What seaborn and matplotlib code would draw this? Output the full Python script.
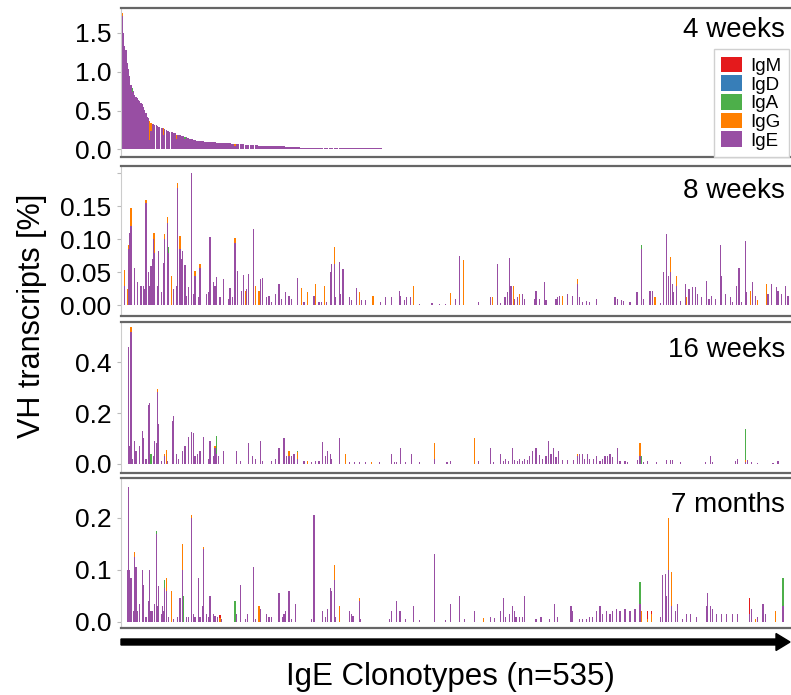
import numpy as np
import pandas as pd
import seaborn as sns
import matplotlib.pyplot as plt
from matplotlib.patches import FancyArrow

n_clones = 535
isotypes = ['IgM', 'IgD', 'IgA', 'IgG', 'IgE']   # top of stack -> bottom
iso_colors = ['#e41a1c', '#377eb8', '#4daf4a', '#ff7f00', '#984ea3']
panel_names = ['4 weeks', '8 weeks', '16 weeks', '7 months']

# 4 weeks: clonotypes are ranked by abundance at this time point (IgE part)
wk4_ige = [
    1.72, 1.50, 1.33, 1.28, 1.11, 1.03, 0.94, 0.83, 0.74, 0.75, 0.70, 0.68,
    0.66, 0.64, 0.62, 0.60, 0.59, 0.55, 0.51, 0.47, 0.42, 0.40, 0.12,
    0.24, 0.33, 0.33, 0.32, 0.31,
    0.30, 0.29, 0.29, 0.28,
    0.27, 0.19, 0.26, 0.25,
    0.24, 0.24, 0.23, 0.22, 0.22, 0.21, 0.21,
    0.14, 0.185, 0.18, 0.18, 0.175, 0.17, 0.17, 0.135,
    0.155, 0.15, 0.145, 0.14, 0.135, 0.13, 0.125, 0.12,
    0.115, 0.11, 0.11, 0.11, 0.105, 0.105, 0.105, 0.10, 0.10, 0.10, 0.10, 0.095, 0.095,
    0.09, 0.09, 0.09, 0.088, 0.088, 0.085, 0.085, 0.085, 0.082, 0.082, 0.08, 0.08,
    0.08, 0.078, 0.078, 0.075,
    0.072, 0.072, 0.05, 0.07, 0.07, 0.068, 0.068, 0.066, 0.066, 0.065, 0.062,
    0.058, 0.057, 0.056, 0.055, 0.055, 0.054, 0.053, 0.052, 0.052, 0.051, 0.05,
    0.05, 0.049, 0.049, 0.048, 0.048, 0.047, 0.046,
    0.044, 0.044, 0.043, 0.043, 0.042, 0.042, 0.041, 0.041, 0.04, 0.04, 0.04,
    0.039, 0.039, 0.038, 0.038, 0.038, 0.037, 0.037, 0.036, 0.036, 0.036, 0.035,
    0.035, 0.034, 0.034,
    0.024, 0.024, 0.023, 0.023, 0.023, 0.022, 0.022, 0.022, 0.022, 0.021, 0.021,
    0.021, 0.021, 0.021, 0.021, 0.020, 0.020, 0.020, 0.020, 0.020, 0.020, 0.020,
    0.020, 0.020, 0.020, 0.019, 0.019, 0.019, 0.019, 0.019, 0.019, 0.019, 0.019,
    0.019, 0.019, 0.019, 0.018, 0.018, 0.018, 0.018, 0.018, 0.018, 0.018, 0.018,
    0.018, 0.018, 0.018, 0.018, 0.018, 0.017, 0.017, 0.017, 0.017, 0.017, 0.017,
    0.017, 0.017, 0.017, 0.017, 0.017, 0.017, 0.017, 0.017, 0.017, 0.017, 0.017,
]
wk4_igg = {0: 0.04, 22: 0.25, 23: 0.10, 33: 0.08, 43: 0.05, 90: 0.02}
wk4_iga = {8: 0.05, 50: 0.03}

# 8 weeks  (rank -> % of VH transcripts)
wk8_ige = {
    2: 0.03, 5: 0.085, 6: 0.11, 7: 0.12, 10: 0.057, 12: 0.035, 15: 0.03, 17: 0.03,
    18: 0.025, 19: 0.155, 21: 0.05, 22: 0.03, 23: 0.06, 24: 0.07, 25: 0.10, 26: 0.08,
    28: 0.03, 29: 0.083, 31: 0.02, 33: 0.064, 34: 0.10, 36: 0.125, 37: 0.08, 41: 0.025,
    43: 0.03, 44: 0.178, 46: 0.085, 47: 0.07, 48: 0.083, 50: 0.061, 51: 0.015, 53: 0.028,
    55: 0.20, 57: 0.018, 58: 0.045, 61: 0.012, 62: 0.056, 67: 0.018, 69: 0.02, 70: 0.104,
    73: 0.035, 74: 0.03, 75: 0.043, 78: 0.012, 81: 0.04, 85: 0.01, 86: 0.027, 88: 0.013,
    90: 0.095, 92: 0.052, 95: 0.022, 97: 0.046, 99: 0.025, 101: 0.048, 105: 0.115,
    110: 0.04, 112: 0.042, 115: 0.012, 117: 0.014, 119: 0.005, 122: 0.018, 125: 0.033,
    127: 0.01, 130: 0.021, 133: 0.015, 135: 0.01, 140: 0.042, 145: 0.005, 153: 0.015,
    157: 0.005, 159: 0.005, 163: 0.005, 166: 0.05, 167: 0.062, 169: 0.062, 170: 0.012,
    173: 0.066, 174: 0.018, 176: 0.055, 181: 0.012, 183: 0.008, 187: 0.026, 191: 0.008,
    194: 0.008, 206: 0.005, 210: 0.012, 215: 0.012, 221: 0.022, 222: 0.015, 225: 0.008,
    227: 0.013, 230: 0.013, 237: 0.002, 247: 0.003, 253: 0.002, 258: 0.002,
    266: 0.01, 269: 0.075, 284: 0.005, 294: 0.013, 299: 0.062, 302: 0.003, 305: 0.012,
    306: 0.012, 307: 0.02, 309: 0.072, 310: 0.03, 313: 0.01, 315: 0.012, 319: 0.018,
    321: 0.01, 329: 0.01, 330: 0.022, 333: 0.01, 337: 0.035, 338: 0.008, 346: 0.01,
    347: 0.012, 349: 0.014, 355: 0.018, 359: 0.015, 363: 0.033, 365: 0.012, 367: 0.005,
    370: 0.007, 373: 0.005, 378: 0.01, 393: 0.012, 395: 0.01, 398: 0.008, 400: 0.006,
    405: 0.005, 410: 0.02, 411: 0.02, 414: 0.086, 416: 0.01, 421: 0.022, 423: 0.022,
    429: 0.004, 432: 0.05, 434: 0.108, 436: 0.045, 437: 0.05, 439: 0.033, 440: 0.02,
    442: 0.03, 445: 0.006, 449: 0.033, 452: 0.025, 455: 0.028, 457: 0.028, 459: 0.018,
    462: 0.012, 466: 0.037, 468: 0.01, 470: 0.015, 473: 0.01, 477: 0.092, 478: 0.045,
    481: 0.017, 485: 0.012, 487: 0.005, 490: 0.03, 492: 0.057, 494: 0.005, 497: 0.097,
    498: 0.02, 503: 0.035, 505: 0.015, 515: 0.017, 518: 0.033, 522: 0.028, 523: 0.022,
    526: 0.018, 529: 0.03, 531: 0.015, 534: 0.025,
}
wk8_igg = {
    2: 0.023, 4: 0.025, 5: 0.006, 7: 0.028, 19: 0.005, 25: 0.01, 26: 0.03, 34: 0.008,
    36: 0.009, 39: 0.045, 44: 0.008, 46: 0.02, 58: 0.007, 62: 0.007, 90: 0.007,
    98: 0.022, 106: 0.03, 109: 0.022, 143: 0.026, 148: 0.02, 154: 0.032, 161: 0.03,
    169: 0.026, 189: 0.021, 200: 0.015, 232: 0.03, 262: 0.019, 272: 0.068, 295: 0.012,
    312: 0.03, 317: 0.018, 351: 0.015, 363: 0.007, 425: 0.012, 437: 0.023, 442: 0.014,
    450: 0.012, 501: 0.022, 507: 0.008, 514: 0.033,
}
wk8_iga = {37: 0.008, 414: 0.006}

# 16 weeks
wk16_ige = {
    5: 0.46, 6: 0.07, 7: 0.52, 8: 0.02, 10: 0.09, 11: 0.05, 14: 0.07, 16: 0.13, 17: 0.10,
    19: 0.02, 21: 0.23, 22: 0.24, 25: 0.03, 26: 0.09, 27: 0.08, 28: 0.285, 29: 0.155,
    31: 0.01, 34: 0.03, 36: 0.01, 40: 0.17, 41: 0.19, 43: 0.04, 45: 0.02, 48: 0.05,
    50: 0.07, 53: 0.105, 55: 0.125, 57: 0.12, 58: 0.03, 60: 0.04, 62: 0.05, 65: 0.105,
    69: 0.02, 70: 0.09, 73: 0.03, 74: 0.06, 75: 0.04, 77: 0.03, 81: 0.05, 91: 0.05,
    94: 0.01, 101: 0.08, 104: 0.03, 106: 0.02, 110: 0.09, 112: 0.01, 119: 0.01,
    122: 0.02, 125: 0.06, 129: 0.10, 131: 0.03, 133: 0.03, 135: 0.03, 137: 0.04,
    140: 0.02, 145: 0.01, 151: 0.008, 154: 0.01, 157: 0.01, 160: 0.085, 162: 0.03,
    164: 0.05, 166: 0.04, 167: 0.02, 173: 0.10, 181: 0.005, 185: 0.005, 189: 0.006,
    194: 0.006, 205: 0.005, 215: 0.04, 217: 0.008, 219: 0.008, 222: 0.06, 226: 0.005,
    231: 0.04, 237: 0.005, 249: 0.02, 259: 0.005, 262: 0.01,
    284: 0.01, 294: 0.06, 296: 0.005, 302: 0.04, 304: 0.01, 306: 0.02, 308: 0.01,
    311: 0.06, 313: 0.015, 315: 0.01, 317: 0.02, 319: 0.012, 321: 0.02, 323: 0.015,
    325: 0.03, 327: 0.05, 330: 0.06, 333: 0.035, 335: 0.02, 338: 0.03, 340: 0.09,
    342: 0.04, 344: 0.06, 346: 0.025, 348: 0.05, 351: 0.015, 355: 0.015, 360: 0.015,
    363: 0.03, 365: 0.04, 367: 0.04, 369: 0.02, 371: 0.04, 373: 0.02, 376: 0.02,
    378: 0.03, 381: 0.01, 383: 0.02, 385: 0.03, 387: 0.03, 389: 0.04, 391: 0.025,
    395: 0.06, 397: 0.01, 401: 0.01, 403: 0.005, 411: 0.015, 413: 0.03, 416: 0.005,
    419: 0.01, 426: 0.005, 434: 0.015, 437: 0.015, 439: 0.015, 445: 0.005, 465: 0.005,
    469: 0.03, 471: 0.005, 489: 0.01, 491: 0.02, 497: 0.005, 499: 0.015, 502: 0.005,
    507: 0.004, 519: 0.004, 523: 0.01,
}
wk16_igg = {
    7: 0.02, 28: 0.01, 34: 0.01, 35: 0.055, 74: 0.01, 133: 0.02, 140: 0.025, 148: 0.01,
    178: 0.04, 199: 0.005, 249: 0.06, 281: 0.10, 363: 0.01, 413: 0.05, 497: 0.01,
}
wk16_iga = {23: 0.04, 75: 0.07, 140: 0.005, 414: 0.03, 497: 0.12}

# 7 months
mo7_ige = {
    4: 0.10, 5: 0.26, 6: 0.10, 7: 0.085, 9: 0.02, 10: 0.125, 11: 0.105, 12: 0.02,
    14: 0.035, 16: 0.10, 17: 0.07, 19: 0.01, 21: 0.04, 22: 0.10, 23: 0.02, 24: 0.02,
    26: 0.035, 27: 0.17, 28: 0.03, 29: 0.068, 31: 0.015, 32: 0.03, 33: 0.02, 34: 0.065,
    35: 0.06, 37: 0.01, 41: 0.005, 44: 0.01, 46: 0.045, 48: 0.10, 51: 0.01, 53: 0.01,
    55: 0.20, 57: 0.015, 58: 0.01, 61: 0.084, 62: 0.01, 64: 0.03, 65: 0.14, 67: 0.015,
    69: 0.01, 70: 0.05, 73: 0.015, 74: 0.012, 76: 0.01, 79: 0.005, 91: 0.015, 94: 0.07,
    98: 0.005, 100: 0.015, 105: 0.105, 106: 0.005, 110: 0.025, 115: 0.015, 117: 0.01,
    119: 0.01, 125: 0.055, 128: 0.01, 129: 0.015, 130: 0.02, 133: 0.06, 135: 0.005,
    138: 0.035, 151: 0.005, 153: 0.205, 160: 0.02, 162: 0.01, 164: 0.025, 166: 0.065,
    167: 0.06, 169: 0.08, 170: 0.01, 181: 0.02, 183: 0.015, 184: 0.012, 189: 0.04,
    190: 0.005, 213: 0.005, 215: 0.02, 219: 0.04, 221: 0.02, 222: 0.02, 226: 0.005,
    232: 0.03, 237: 0.003, 249: 0.13, 258: 0.003, 262: 0.035,
    269: 0.05, 273: 0.005, 281: 0.02, 294: 0.01, 297: 0.008, 302: 0.02, 304: 0.045,
    306: 0.01, 309: 0.015, 311: 0.03, 313: 0.02, 314: 0.01, 317: 0.01, 319: 0.01,
    321: 0.05, 330: 0.005, 334: 0.01, 341: 0.005, 345: 0.035, 347: 0.01, 358: 0.03,
    359: 0.02, 365: 0.005, 367: 0.005, 370: 0.005, 373: 0.01, 375: 0.01, 378: 0.02,
    381: 0.03, 383: 0.015, 386: 0.02, 389: 0.015, 391: 0.02, 394: 0.025, 397: 0.02,
    401: 0.025, 405: 0.02, 409: 0.025, 413: 0.035, 429: 0.01, 431: 0.09, 433: 0.092,
    434: 0.05, 436: 0.10, 438: 0.03, 441: 0.02, 443: 0.035, 447: 0.005, 450: 0.015,
    453: 0.015, 458: 0.01, 466: 0.03, 467: 0.055, 469: 0.03, 471: 0.025, 474: 0.015,
    478: 0.015, 482: 0.015, 487: 0.015, 491: 0.015, 500: 0.015, 502: 0.025, 507: 0.01,
    511: 0.035, 513: 0.015, 527: 0.03, 534: 0.02,
}
mo7_igg = {
    10: 0.009, 35: 0.025, 39: 0.06, 48: 0.05, 55: 0.006, 65: 0.005, 78: 0.008,
    109: 0.03, 169: 0.03, 173: 0.03, 189: 0.005, 288: 0.008, 414: 0.02, 419: 0.005,
    422: 0.015, 436: 0.10, 438: 0.065, 505: 0.005, 521: 0.02,
}
mo7_iga = {27: 0.005, 34: 0.015, 49: 0.05, 90: 0.04, 413: 0.042, 527: 0.055}
mo7_igm = {78: 0.005, 419: 0.015, 422: 0.005, 500: 0.03}


def to_array(values):
    arr = np.zeros(n_clones)
    if isinstance(values, dict):
        for i, v in values.items():
            arr[i] = v
    else:
        arr[:len(values)] = values
    return arr


def long_table(ige, igg, iga, igm=None):
    parts = {'IgE': ige, 'IgG': igg, 'IgA': iga, 'IgM': igm or {}, 'IgD': {}}
    frames = []
    for iso, vals in parts.items():
        frames.append(pd.DataFrame({'clonotype': np.arange(n_clones),
                                    'isotype': iso,
                                    'pct': to_array(vals)}))
    return pd.concat(frames, ignore_index=True)


tables = [
    long_table(wk4_ige, wk4_igg, wk4_iga),
    long_table(wk8_ige, wk8_igg, wk8_iga),
    long_table(wk16_ige, wk16_igg, wk16_iga),
    long_table(mo7_ige, mo7_igg, mo7_iga, mo7_igm),
]

sns.set_style('ticks')
plt.rcParams['font.family'] = ['Liberation Sans', 'DejaVu Sans']
plt.rcParams['text.color'] = 'black'

W, H = 791, 695
fig = plt.figure(figsize=(W / 100, H / 100), dpi=100)

# pixel top/bottom of each panel
boxes = [(8, 157), (166, 316), (322, 473), (478, 628)]
ylims = [(-0.097, 1.82), (-0.016, 0.211), (-0.037, 0.56), (-0.012, 0.277)]
yticks = [[0, 0.5, 1.0, 1.5], [0, 0.05, 0.10, 0.15, 0.20], [0, 0.2, 0.4], [0, 0.1, 0.2]]
ylabels = [['0.0', '0.5', '1.0', '1.5'], ['0.00', '0.05', '0.10', '0.15', ''],
           ['0.0', '0.2', '0.4'], ['0.0', '0.1', '0.2']]
text_y = [0.805, 0.787, 0.768, 0.773]

palette = dict(zip(isotypes, iso_colors))
axes = []
for k, df in enumerate(tables):
    top, bot = boxes[k]
    ax = fig.add_axes([121 / W, 1 - bot / H, 672 / W, (bot - top) / H])
    sns.histplot(data=df, x='clonotype', weights='pct', hue='isotype',
                 hue_order=isotypes, palette=palette, multiple='stack',
                 discrete=True, shrink=0.95, linewidth=0, alpha=1,
                 legend=(k == 0), ax=ax)
    ax.set_xlim(-1, n_clones)
    ax.set_ylim(*ylims[k])
    ax.set_yticks(yticks[k])
    ax.set_yticklabels(ylabels[k], fontsize=19)
    ax.set_xticks([])
    ax.set_xlabel('')
    ax.set_ylabel('')
    ax.tick_params(axis='y', length=3, width=0.8, color='#bbbbbb',
                   labelcolor='black', pad=4)
    for side in ['top', 'bottom']:
        ax.spines[side].set_color('#666666')
        ax.spines[side].set_linewidth(1.6)
    ax.spines['left'].set_color('#cccccc')
    ax.spines['left'].set_linewidth(0.8)
    ax.spines['right'].set_visible(False)
    ax.text(0.988, text_y[k], panel_names[k], transform=ax.transAxes,
            ha='right', va='baseline', fontsize=20)
    axes.append(ax)

sns.move_legend(axes[0], 'lower right', bbox_to_anchor=(0.994, 0.0),
                title=None, fontsize=13.5, frameon=True, borderaxespad=0,
                borderpad=0.4, labelspacing=0.02, handlelength=1.1,
                handleheight=0.9, handletextpad=0.45, fancybox=False,
                edgecolor='#d0d0d0', framealpha=1)

fig.text(32 / W, 1 - 316 / H, 'VH transcripts [%]', rotation=90,
         ha='center', va='center', fontsize=22)
fig.text(450 / W, 1 - 685 / H, 'IgE Clonotypes (n=535)',
         ha='center', va='baseline', fontsize=22.5)

# direction arrow under the bottom panel
y_arrow = 1 - 642 / H
fig.add_artist(FancyArrow(121 / W, y_arrow, (790 - 121) / W, 0,
                          width=6 / H, head_width=17 / H, head_length=14 / W,
                          length_includes_head=True, color='black',
                          transform=fig.transFigure))

fig.savefig('out.png', dpi=100)
